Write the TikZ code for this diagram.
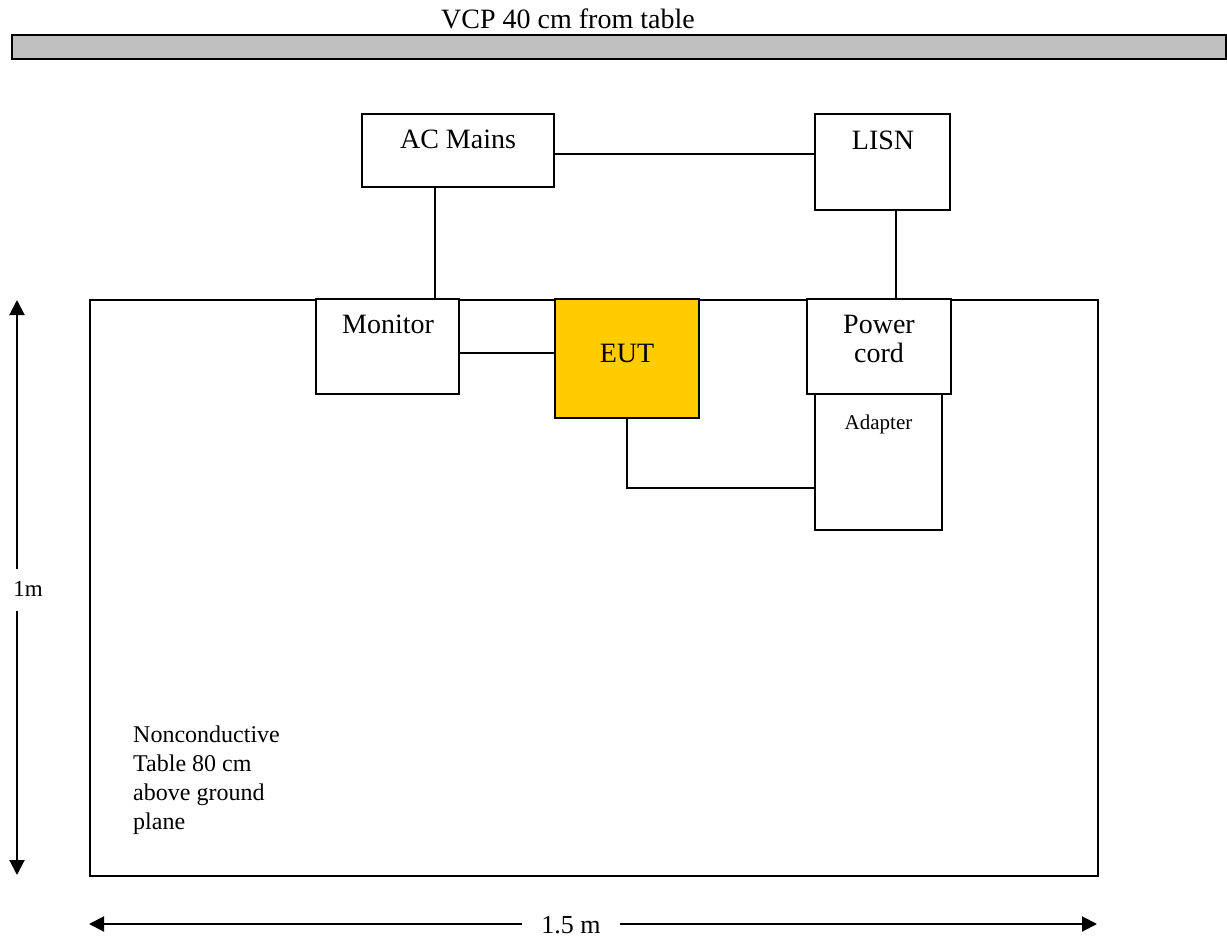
\documentclass[tikz,border=0pt]{standalone}
\usepackage{fontspec}
\setmainfont{Liberation Serif}
\usetikzlibrary{arrows.meta}
\definecolor{eutfill}{HTML}{FFCC00}
\definecolor{vcpgray}{HTML}{C0C0C0}
\tikzset{
  box/.style={draw=black, line width=1.6pt, fill=white, inner sep=0pt},
  wire/.style={draw=black, line width=1.6pt},
  dimarrow/.style={draw=black, line width=2pt, -{Triangle[width=15pt,length=15pt]}},
  bigtext/.style={font=\fontsize{28}{32}\selectfont, inner sep=0pt},
}
\begin{document}
\begin{tikzpicture}[x=1pt,y=-1pt]
\useasboundingbox (0,0) rectangle (1227,937);
% VCP
\node[bigtext, anchor=base] (vcptxt) at (568,28) {VCP 40 cm from table};
\node[draw=black, line width=1.5pt, fill=vcpgray, minimum width=1214pt, minimum height=24pt, inner sep=0pt, anchor=north west] (vcp) at (11,34) {};
% table
\node[draw=black, line width=1.8pt, minimum width=1008pt, minimum height=576pt, inner sep=0pt, anchor=north west] (table) at (89,299) {};
% boxes
\node[box, minimum width=192pt, minimum height=73pt] (ac) at (458,150.5) {};
\node[bigtext, anchor=base] (actxt) at (458,148) {AC Mains};
\node[box, minimum width=135pt, minimum height=96pt] (lisn) at (882.5,162) {};
\node[bigtext, anchor=base] (lisntxt) at (883,149) {LISN};
\node[box, minimum width=143pt, minimum height=95pt] (mon) at (387.5,346.5) {};
\node[bigtext, anchor=base] (montxt) at (388,333) {Monitor};
\node[box, fill=eutfill, minimum width=144pt, minimum height=119pt] (eut) at (627,358.5) {};
\node[bigtext, anchor=base] (euttxt) at (627,362) {EUT};
\node[box, minimum width=127pt, minimum height=136pt] (adp) at (878.5,462) {};
\node[font=\fontsize{21}{25}\selectfont, inner sep=0pt, anchor=base] (adptxt) at (878.5,429) {Adapter};
\node[box, minimum width=144pt, minimum height=95pt] (pc) at (879,346.5) {};
\node[bigtext, anchor=base] (pctxt1) at (879,333) {Power};
\node[bigtext, anchor=base] (pctxt2) at (879,362) {cord};
% connectors
\draw[wire] ([xshift=-23pt]ac.south) -- ([xshift=-23pt]ac.south |- mon.north);
\draw[wire] ([yshift=-3.5pt]ac.east) -- ([yshift=-3.5pt]ac.east -| lisn.west);
\draw[wire] ([xshift=13.5pt]lisn.south) -- ([xshift=13.5pt]lisn.south |- pc.north);
\draw[wire] ([yshift=-6.5pt]mon.east) -- ([yshift=-6.5pt]mon.east -| eut.west);
\draw[wire] (eut.south) |- ([yshift=-26pt]adp.west);
% table label
\node[font=\fontsize{24}{29}\selectfont, align=left, inner sep=0pt, anchor=north west] (tbltxt) at (133,725.5) {Nonconductive\\Table 80 cm\\above ground\\plane};
% dimensions
\node[font=\fontsize{23}{27}\selectfont, inner xsep=0pt, inner ysep=10pt, text height=17pt, text depth=5pt, anchor=base] (m1) at (28,596) {1m};
\coordinate (vtop) at (17,300);
\coordinate (vbot) at (17,875);
\draw[dimarrow] (m1.north -| vtop) -- (vtop);
\draw[dimarrow] (m1.south -| vbot) -- (vbot);
\node[font=\fontsize{26}{30}\selectfont, inner xsep=19pt, inner ysep=0pt, anchor=base] (m15) at (571,933) {1.5 m};
\coordinate (hleft) at (89,924);
\coordinate (hright) at (1097,924);
\draw[dimarrow] (m15.west |- hleft) -- (hleft);
\draw[dimarrow] (m15.east |- hright) -- (hright);
\end{tikzpicture}
\end{document}
